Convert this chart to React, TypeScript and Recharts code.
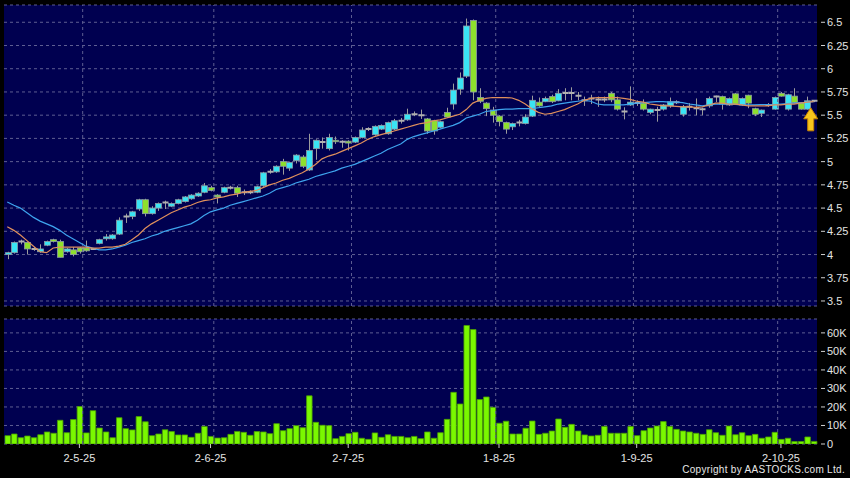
import { ComposedChart, Bar, Line, XAxis, YAxis, CartesianGrid, ReferenceLine, ReferenceDot } from 'recharts';

// daily OHLC (124 sessions)
const opens = [4.00, 4.02, 4.14, 4.13, 4.06, 4.03, 4.10, 4.16, 4.14, 4.03,
    4.05, 4.07, 4.07, 4.06, 4.12, 4.17, 4.17, 4.22, 4.41, 4.41,
    4.49, 4.59, 4.44, 4.50, 4.56, 4.52, 4.55, 4.57, 4.60, 4.63,
    4.67, 4.72, 4.64, 4.67, 4.72, 4.72, 4.67, 4.67, 4.67, 4.74,
    4.89, 4.89, 5.00, 4.93, 5.01, 5.05, 4.91, 5.14, 5.21, 5.14,
    5.23, 5.215, 5.22, 5.21, 5.26, 5.35, 5.29, 5.35, 5.30, 5.35,
    5.44, 5.45, 5.51, 5.50, 5.46, 5.44, 5.37, 5.53, 5.62, 5.78,
    5.92, 6.52, 5.69, 5.63, 5.555, 5.49, 5.42, 5.375, 5.42, 5.41,
    5.49, 5.64, 5.645, 5.70, 5.655, 5.74, 5.74, 5.71, 5.66, 5.68,
    5.67, 5.67, 5.735, 5.665, 5.54, 5.61, 5.63, 5.63, 5.53, 5.555,
    5.565, 5.60, 5.64, 5.51, 5.59, 5.575, 5.565, 5.60, 5.70, 5.70,
    5.61, 5.73, 5.61, 5.715, 5.57, 5.52, 5.61, 5.565, 5.735, 5.565,
    5.705, 5.635, 5.565, 5.655];
const highs = [4.03, 4.14, 4.16, 4.14, 4.08, 4.11, 4.15, 4.17, 4.16, 4.07,
    4.08, 4.08, 4.15, 4.07, 4.17, 4.22, 4.22, 4.40, 4.44, 4.47,
    4.60, 4.60, 4.52, 4.56, 4.58, 4.56, 4.60, 4.63, 4.65, 4.67,
    4.77, 4.74, 4.65, 4.73, 4.74, 4.74, 4.70, 4.69, 4.74, 4.89,
    4.92, 4.96, 5.03, 5.00, 5.08, 5.07, 5.30, 5.24, 5.26, 5.30,
    5.27, 5.23, 5.23, 5.27, 5.37, 5.37, 5.39, 5.40, 5.43, 5.46,
    5.47, 5.57, 5.54, 5.56, 5.47, 5.45, 5.44, 5.58, 5.84, 5.96,
    6.54, 6.53, 5.79, 5.64, 5.59, 5.50, 5.43, 5.42, 5.45, 5.51,
    5.71, 5.69, 5.70, 5.72, 5.78, 5.79, 5.80, 5.75, 5.70, 5.72,
    5.70, 5.70, 5.75, 5.70, 5.585, 5.81, 5.66, 5.67, 5.57, 5.59,
    5.62, 5.69, 5.66, 5.61, 5.63, 5.68, 5.58, 5.70, 5.71, 5.71,
    5.69, 5.74, 5.69, 5.72, 5.58, 5.56, 5.63, 5.70, 5.75, 5.73,
    5.79, 5.64, 5.70, 5.66];
const lows = [3.95, 4.01, 4.11, 4.00, 4.04, 4.02, 4.09, 4.13, 3.97, 4.02,
    3.98, 4.01, 4.03, 4.05, 4.11, 4.15, 4.16, 4.21, 4.34, 4.38,
    4.47, 4.41, 4.43, 4.47, 4.49, 4.51, 4.54, 4.56, 4.59, 4.62,
    4.66, 4.68, 4.55, 4.66, 4.70, 4.62, 4.64, 4.65, 4.66, 4.73,
    4.87, 4.88, 4.86, 4.90, 4.98, 4.93, 4.90, 5.02, 5.14, 5.12,
    5.19, 5.15, 5.12, 5.20, 5.25, 5.33, 5.28, 5.34, 5.29, 5.34,
    5.41, 5.44, 5.49, 5.46, 5.30, 5.29, 5.36, 5.47, 5.56, 5.72,
    5.90, 5.66, 5.63, 5.49, 5.42, 5.38, 5.30, 5.34, 5.38, 5.40,
    5.48, 5.59, 5.64, 5.63, 5.65, 5.66, 5.66, 5.66, 5.60, 5.62,
    5.59, 5.64, 5.64, 5.55, 5.455, 5.60, 5.60, 5.55, 5.51, 5.43,
    5.55, 5.58, 5.62, 5.485, 5.55, 5.50, 5.50, 5.58, 5.64, 5.56,
    5.60, 5.61, 5.60, 5.575, 5.49, 5.48, 5.59, 5.56, 5.70, 5.55,
    5.63, 5.56, 5.56, 5.64];
const closes = [4.02, 4.13, 4.14, 4.06, 4.06, 4.06, 4.14, 4.14, 3.97, 4.06,
    4.00, 4.03, 4.04, 4.06, 4.16, 4.19, 4.21, 4.37, 4.41, 4.46,
    4.59, 4.44, 4.50, 4.55, 4.56, 4.55, 4.59, 4.62, 4.64, 4.66,
    4.74, 4.69, 4.62, 4.72, 4.72, 4.66, 4.67, 4.67, 4.73, 4.88,
    4.89, 4.95, 4.95, 4.99, 5.07, 4.95, 5.12, 5.23, 5.21, 5.26,
    5.22, 5.215, 5.20, 5.26, 5.34, 5.35, 5.38, 5.39, 5.42, 5.44,
    5.44, 5.51, 5.51, 5.50, 5.33, 5.33, 5.43, 5.48, 5.77, 5.90,
    6.46, 5.75, 5.65, 5.57, 5.50, 5.43, 5.35, 5.41, 5.42, 5.48,
    5.66, 5.60, 5.68, 5.645, 5.735, 5.74, 5.74, 5.71, 5.66, 5.68,
    5.67, 5.67, 5.665, 5.565, 5.54, 5.64, 5.63, 5.565, 5.565, 5.555,
    5.61, 5.645, 5.64, 5.59, 5.59, 5.575, 5.565, 5.68, 5.70, 5.62,
    5.68, 5.62, 5.68, 5.63, 5.51, 5.555, 5.61, 5.69, 5.705, 5.72,
    5.635, 5.565, 5.655, 5.655];

// moving averages as drawn (orange = short, blue = long)
const maShort = [4.30, 4.26, 4.21, 4.15, 4.09, 4.03, 4.02, 4.07, 4.08, 4.08,
    4.08, 4.08, 4.08, 4.07, 4.07, 4.08, 4.08, 4.09, 4.11, 4.16,
    4.21, 4.28, 4.33, 4.37, 4.41, 4.45, 4.48, 4.51, 4.53, 4.56,
    4.58, 4.59, 4.61, 4.62, 4.64, 4.65, 4.67, 4.68, 4.69, 4.72,
    4.75, 4.77, 4.80, 4.82, 4.85, 4.88, 4.92, 4.97, 5.03, 5.06,
    5.08, 5.11, 5.14, 5.17, 5.20, 5.24, 5.27, 5.29, 5.31, 5.33,
    5.35, 5.37, 5.39, 5.41, 5.42, 5.44, 5.45, 5.47, 5.49, 5.51,
    5.56, 5.63, 5.66, 5.68, 5.69, 5.69, 5.69, 5.685, 5.66, 5.62,
    5.57, 5.53, 5.51, 5.52, 5.54, 5.56, 5.59, 5.62, 5.66, 5.68,
    5.69, 5.69, 5.69, 5.69, 5.68, 5.67, 5.65, 5.64, 5.62, 5.61,
    5.60, 5.60, 5.595, 5.59, 5.59, 5.585, 5.59, 5.61, 5.63, 5.63,
    5.62, 5.62, 5.61, 5.60, 5.60, 5.60, 5.60, 5.61, 5.61, 5.62,
    5.62, 5.63, 5.64, 5.645];
const maLong = [4.565, 4.53, 4.50, 4.45, 4.40, 4.36, 4.33, 4.30, 4.26, 4.21,
    4.17, 4.13, 4.09, 4.07, 4.05, 4.05, 4.06, 4.08, 4.10, 4.13,
    4.15, 4.17, 4.20, 4.22, 4.25, 4.27, 4.29, 4.31, 4.33, 4.37,
    4.42, 4.46, 4.48, 4.50, 4.53, 4.55, 4.57, 4.59, 4.61, 4.63,
    4.66, 4.70, 4.72, 4.74, 4.77, 4.79, 4.81, 4.84, 4.86, 4.88,
    4.90, 4.93, 4.95, 4.97, 5.00, 5.03, 5.06, 5.09, 5.13, 5.16,
    5.19, 5.24, 5.27, 5.29, 5.31, 5.33, 5.35, 5.37, 5.39, 5.42,
    5.47, 5.49, 5.51, 5.54, 5.55, 5.56, 5.565, 5.565, 5.57, 5.57,
    5.57, 5.58, 5.59, 5.60, 5.62, 5.63, 5.64, 5.65, 5.66, 5.65,
    5.62, 5.61, 5.61, 5.61, 5.61, 5.62, 5.63, 5.635, 5.64, 5.645,
    5.645, 5.64, 5.64, 5.635, 5.62, 5.61, 5.60, 5.61, 5.62, 5.62,
    5.62, 5.615, 5.61, 5.61, 5.61, 5.615, 5.615, 5.615, 5.62, 5.625,
    5.63, 5.63, 5.64, 5.645];

// volume in thousands of shares
const volumes = [4.5, 5.4, 3.4, 4.3, 3.4, 5.0, 6.5, 5.8, 12.8, 6.1,
    13.2, 20.2, 6.0, 18.0, 8.6, 6.5, 3.4, 14.2, 8.3, 7.6,
    14.8, 12.0, 4.5, 5.4, 7.7, 6.7, 4.9, 4.9, 3.6, 5.8,
    9.5, 4.1, 3.2, 3.4, 5.2, 6.8, 6.3, 4.7, 6.7, 6.5,
    5.6, 11.0, 7.2, 8.3, 9.9, 8.8, 26.0, 11.7, 10.1, 9.9,
    2.9, 4.1, 5.6, 6.3, 3.1, 2.5, 6.0, 3.6, 5.0, 4.1,
    4.1, 3.4, 4.1, 2.9, 6.5, 3.1, 6.1, 13.3, 27.9, 21.6,
    64.0, 61.8, 24.0, 25.4, 19.8, 11.2, 12.3, 5.4, 5.4, 8.5,
    12.4, 5.2, 5.8, 7.0, 13.5, 9.0, 10.6, 7.0, 4.9, 4.3,
    4.7, 9.5, 5.8, 5.8, 5.8, 9.4, 4.5, 7.2, 8.6, 9.7,
    12.1, 9.4, 7.9, 7.0, 6.5, 5.8, 5.2, 7.7, 6.1, 4.7,
    9.7, 5.0, 6.1, 4.5, 5.2, 3.1, 3.8, 6.3, 2.5, 3.1,
    1.3, 1.3, 3.8, 1.4];

const priceTicks = [3.5, 3.75, 4, 4.25, 4.5, 4.75, 5, 5.25, 5.5, 5.75, 6, 6.25, 6.5];
const volTicks = [0, 10, 20, 30, 40, 50, 60];
const monthStarts = [12, 32, 53, 75, 96, 118];
const dateTicks = [11, 31, 52, 75, 96, 118];
const dateLabels = ['2-5-25', '2-6-25', '2-7-25', '1-8-25', '1-9-25', '2-10-25'];

const rows = opens.map((o, i) => ({
    i,
    open: o,
    high: highs[i],
    low: lows[i],
    close: closes[i],
    maShort: maShort[i],
    maLong: maLong[i],
    vol: volumes[i],
}));

const PLOT_BG = '#000050';
const GRID = '#5e5e92';
const UP = '#3ae4f4';
const DOWN = '#8ee02c';
const FONT = '"Liberation Sans", Arial, sans-serif';

function Candle(props: any) {
    const { x, y, width, height, payload } = props;
    if (!payload) return null;
    const { open, close, high, low } = payload;
    const top = Math.min(y, y + height);
    const h = Math.abs(height);
    const k = high > low ? h / (high - low) : 0;
    const py = (v: number) => top + (high - v) * k;
    const cx = Math.round(x + width / 2) + 0.5;
    const wick = <line x1={cx} x2={cx} y1={top} y2={top + h} stroke="#9c9c9c" strokeWidth={1} />;
    if (open === close) {
        return (
            <g>
                {wick}
                <line x1={cx - 3} x2={cx + 3} y1={py(open)} y2={py(open)} stroke="#b0b0b0" strokeWidth={2} />
            </g>
        );
    }
    const bt = py(Math.max(open, close));
    const bb = py(Math.min(open, close));
    return (
        <g>
            {wick}
            <rect x={cx - 3} y={bt} width={6} height={Math.max(1.5, bb - bt)}
                fill={close > open ? UP : DOWN} stroke="#8c9ca4" strokeWidth={0.8} />
        </g>
    );
}

function PriceTick(props: any) {
    const { x, y, payload } = props;
    return (
        <g>
            <line x1={x + 4} x2={x + 8} y1={y} y2={y} stroke="#d0d0d0" />
            <text x={x + 10} y={y} dy={4} fill="#e4e4e4" fontSize={11} fontFamily={FONT}>{payload.value}</text>
        </g>
    );
}

function VolTick(props: any) {
    const { x, y, payload } = props;
    return (
        <g>
            <line x1={x + 4} x2={x + 8} y1={y} y2={y} stroke="#d0d0d0" />
            <text x={x + 10} y={y} dy={4} fill="#e4e4e4" fontSize={11} fontFamily={FONT}>
                {payload.value === 0 ? '0' : `${payload.value}K`}
            </text>
        </g>
    );
}

function DateTick(props: any) {
    const { x, y, payload } = props;
    const label = dateLabels[dateTicks.indexOf(payload.value)];
    return (
        <g>
            <line x1={x} x2={x} y1={y} y2={y + 4} stroke="#c8c8c8" />
            <text x={x} y={y + 18} textAnchor="middle" fill="#e4e4e4" fontSize={11} fontFamily={FONT}>{label}</text>
        </g>
    );
}

function Arrow(props: any) {
    const { cx, cy } = props;
    const x = cx - 3;
    const t = cy - 12;
    const b = cy + 11;
    return (
        <path d={`M${x},${t} L${x + 7},${t + 11} L${x + 3},${t + 11} L${x + 3},${b} L${x - 3},${b} L${x - 3},${t + 11} L${x - 7},${t + 11} Z`}
            fill="#f8c51c" stroke="#c88400" strokeWidth={1} />
    );
}

export default function App() {
    return (
        <div style={{ position: 'absolute', left: 0, top: 0, width: 850, height: 478, background: '#000', fontFamily: FONT }}>
            <div style={{ position: 'absolute', left: 0, top: 0 }}>
                <ComposedChart width={850} height={310} data={rows} barCategoryGap="0%"
                    margin={{ top: 5, right: 0, left: 4, bottom: 4 }}>
                    <CartesianGrid vertical={false} stroke={GRID} strokeDasharray="3 3" fill={PLOT_BG} fillOpacity={1} />
                    <XAxis dataKey="i" type="category" hide />
                    <YAxis orientation="right" width={33} type="number" domain={[3.446, 6.686]} ticks={priceTicks}
                        allowDataOverflow interval={0} tickLine={false} axisLine={false} tickSize={0} tickMargin={0}
                        tick={<PriceTick />} />
                    {monthStarts.map((m) => (
                        <ReferenceLine key={m} x={m} position="start" stroke={GRID} strokeDasharray="3 3" />
                    ))}
                    <Line dataKey="maLong" stroke="#3ea4ee" strokeWidth={1.2} dot={false} activeDot={false} isAnimationActive={false} />
                    <Line dataKey="maShort" stroke="#e0905c" strokeWidth={1.2} dot={false} activeDot={false} isAnimationActive={false} />
                    <Bar dataKey={(d: any) => [d.low, d.high]} shape={(p: any) => <Candle {...p} />} isAnimationActive={false} />
                    <ReferenceDot x={123} y={5.45} r={0} shape={(p: any) => <Arrow {...p} />} />
                </ComposedChart>
            </div>
            <div style={{ position: 'absolute', left: 0, top: 314 }}>
                <ComposedChart width={850} height={164} data={rows} barCategoryGap="0%"
                    margin={{ top: 5, right: 0, left: 4, bottom: 0 }}>
                    <CartesianGrid vertical={false} stroke={GRID} strokeDasharray="3 3" fill={PLOT_BG} fillOpacity={1} />
                    <XAxis dataKey="i" type="category" ticks={dateTicks} interval={0} height={34}
                        tickLine={false} axisLine={false} tickSize={0} tickMargin={0} tick={<DateTick />} />
                    <YAxis orientation="right" width={33} type="number" domain={[0, 67.5]} ticks={volTicks}
                        allowDataOverflow interval={0} tickLine={false} axisLine={false} tickSize={0} tickMargin={0}
                        tick={<VolTick />} />
                    {monthStarts.map((m) => (
                        <ReferenceLine key={m} x={m} position="start" stroke={GRID} strokeDasharray="3 3" />
                    ))}
                    <Bar dataKey="vol" barSize={5.5} fill="#7af800" stroke="#4a9e00" strokeWidth={0.8} isAnimationActive={false} />
                </ComposedChart>
            </div>
            <div style={{ position: 'absolute', right: 5, top: 464, color: '#e8e8e8', fontSize: 10, letterSpacing: 0.3, whiteSpace: 'nowrap' }}>
                Copyright by AASTOCKS.com Ltd.
            </div>
        </div>
    );
}
